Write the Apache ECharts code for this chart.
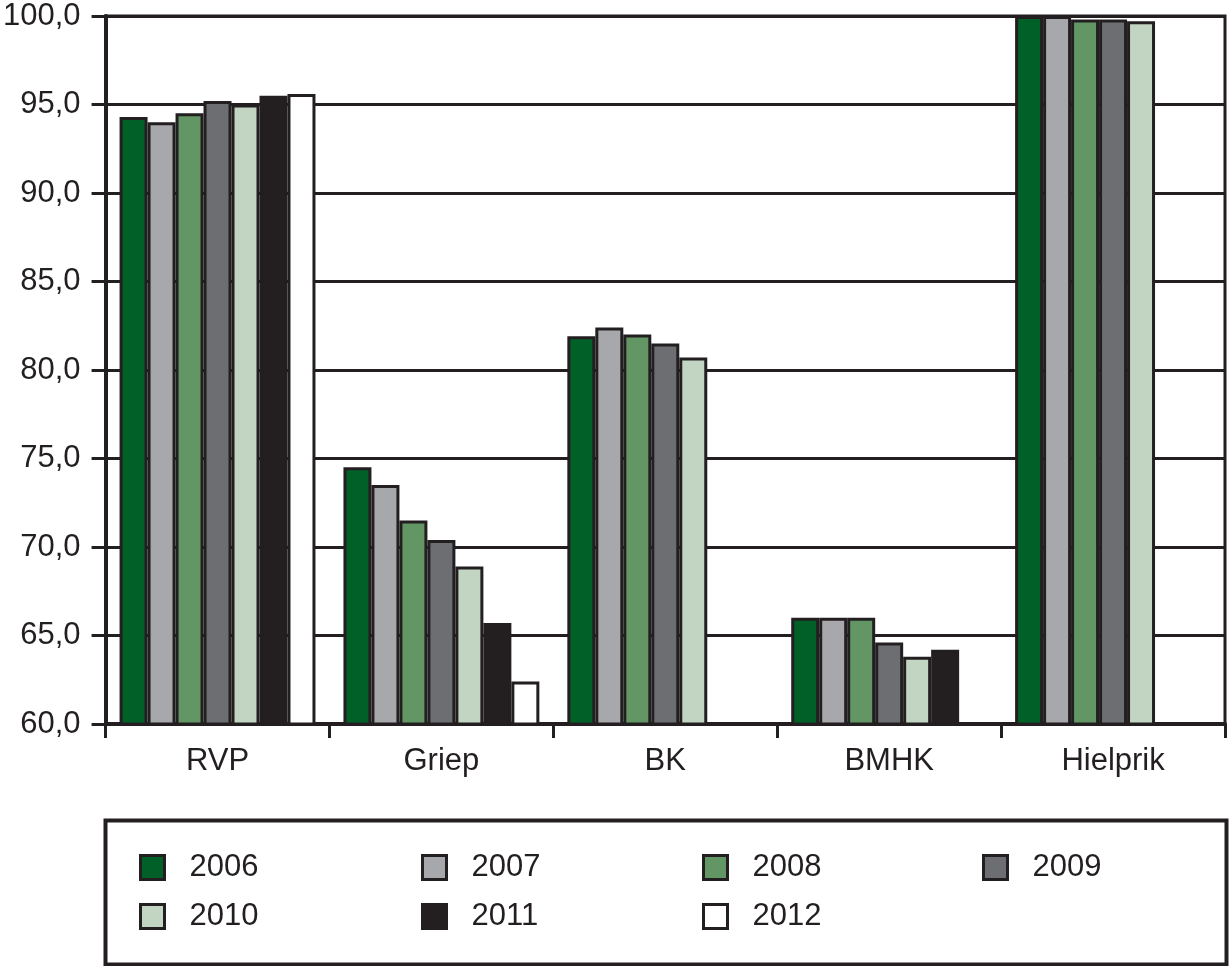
<!DOCTYPE html>
<html>
<head>
<meta charset="utf-8">
<script src="https://cdn.jsdelivr.net/npm/echarts@6/dist/echarts.min.js"></script>
<style>html,body{margin:0;padding:0;background:#fff}#c{width:1229px;height:966px}</style>
</head>
<body>
<div id="c"></div>
<script>
var categories = ['RVP', 'Griep', 'BK', 'BMHK', 'Hielprik'];
var years = ['2006', '2007', '2008', '2009', '2010', '2011', '2012'];
var v2006 = [94.3, 74.5, 81.9, 66.0, 100.0];
var v2007 = [94.0, 73.5, 82.4, 66.0, 100.0];
var v2008 = [94.5, 71.5, 82.0, 66.0, 99.8];
var v2009 = [95.2, 70.4, 81.5, 64.6, 99.8];
var v2010 = [95.0, 68.9, 80.7, 63.8, 99.7];
var v2011 = [95.5, 65.7, null, 64.2, null];
var v2012 = [95.6, 62.4, null, null, null];
var yTicks = { min: 60, max: 100, interval: 5 };

var seriesValues = [v2006, v2007, v2008, v2009, v2010, v2011, v2012];
var colors = ['#006028', '#a7a8ab', '#629664', '#6d6e71', '#c2d5c2', '#231f20', '#ffffff'];
var ink = '#231f20';
var font = '"Liberation Sans", Arial, sans-serif';

var series = years.map(function (y, i) {
  return {
    name: y, type: 'bar', data: seriesValues[i],
    barGap: 0, barCategoryGap: '12.5%',
    itemStyle: { color: colors[i], borderColor: ink, borderWidth: 3 }
  };
});

var colLeft = [139, 421, 702, 982];
var rowTop = [852, 901];
var legends = years.map(function (y, i) {
  return {
    data: [y], left: colLeft[i % 4], top: rowTop[Math.floor(i / 4)],
    padding: 0,
    itemWidth: 24, itemHeight: 24, itemGap: 0, selectedMode: false,
    icon: 'rect',
    itemStyle: { borderColor: ink, borderWidth: 3 },
    textStyle: { fontSize: 31, color: ink, fontFamily: font, padding: [0, 0, 0, 20] }
  };
});

var chart = echarts.init(document.getElementById('c'));
chart.setOption({
  animation: false,
  color: colors,
  grid: { left: 105, right: 4, top: 16, bottom: 242, show: true, borderColor: ink, borderWidth: 3 },
  xAxis: {
    type: 'category', data: categories,
    axisLine: { lineStyle: { color: ink, width: 4 } },
    axisTick: { show: true, length: 14, lineStyle: { color: ink, width: 3 } },
    axisLabel: { fontSize: 31, color: ink, fontFamily: font, margin: 22 }
  },
  yAxis: {
    type: 'value', min: yTicks.min, max: yTicks.max, interval: yTicks.interval,
    axisLine: { show: true, lineStyle: { color: ink, width: 4 } },
    axisTick: { show: true, length: 14, lineStyle: { color: ink, width: 3 } },
    splitLine: { lineStyle: { color: ink, width: 3 } },
    axisLabel: {
      fontSize: 31, color: ink, fontFamily: font, margin: 25,
      formatter: function (v) { return v.toFixed(1).replace('.', ','); }
    }
  },
  legend: legends,
  graphic: [{
    type: 'rect', left: 103, top: 818,
    shape: { width: 1121, height: 144 },
    style: { fill: 'none', stroke: ink, lineWidth: 4 }
  }],
  series: series
});
</script>
</body>
</html>
